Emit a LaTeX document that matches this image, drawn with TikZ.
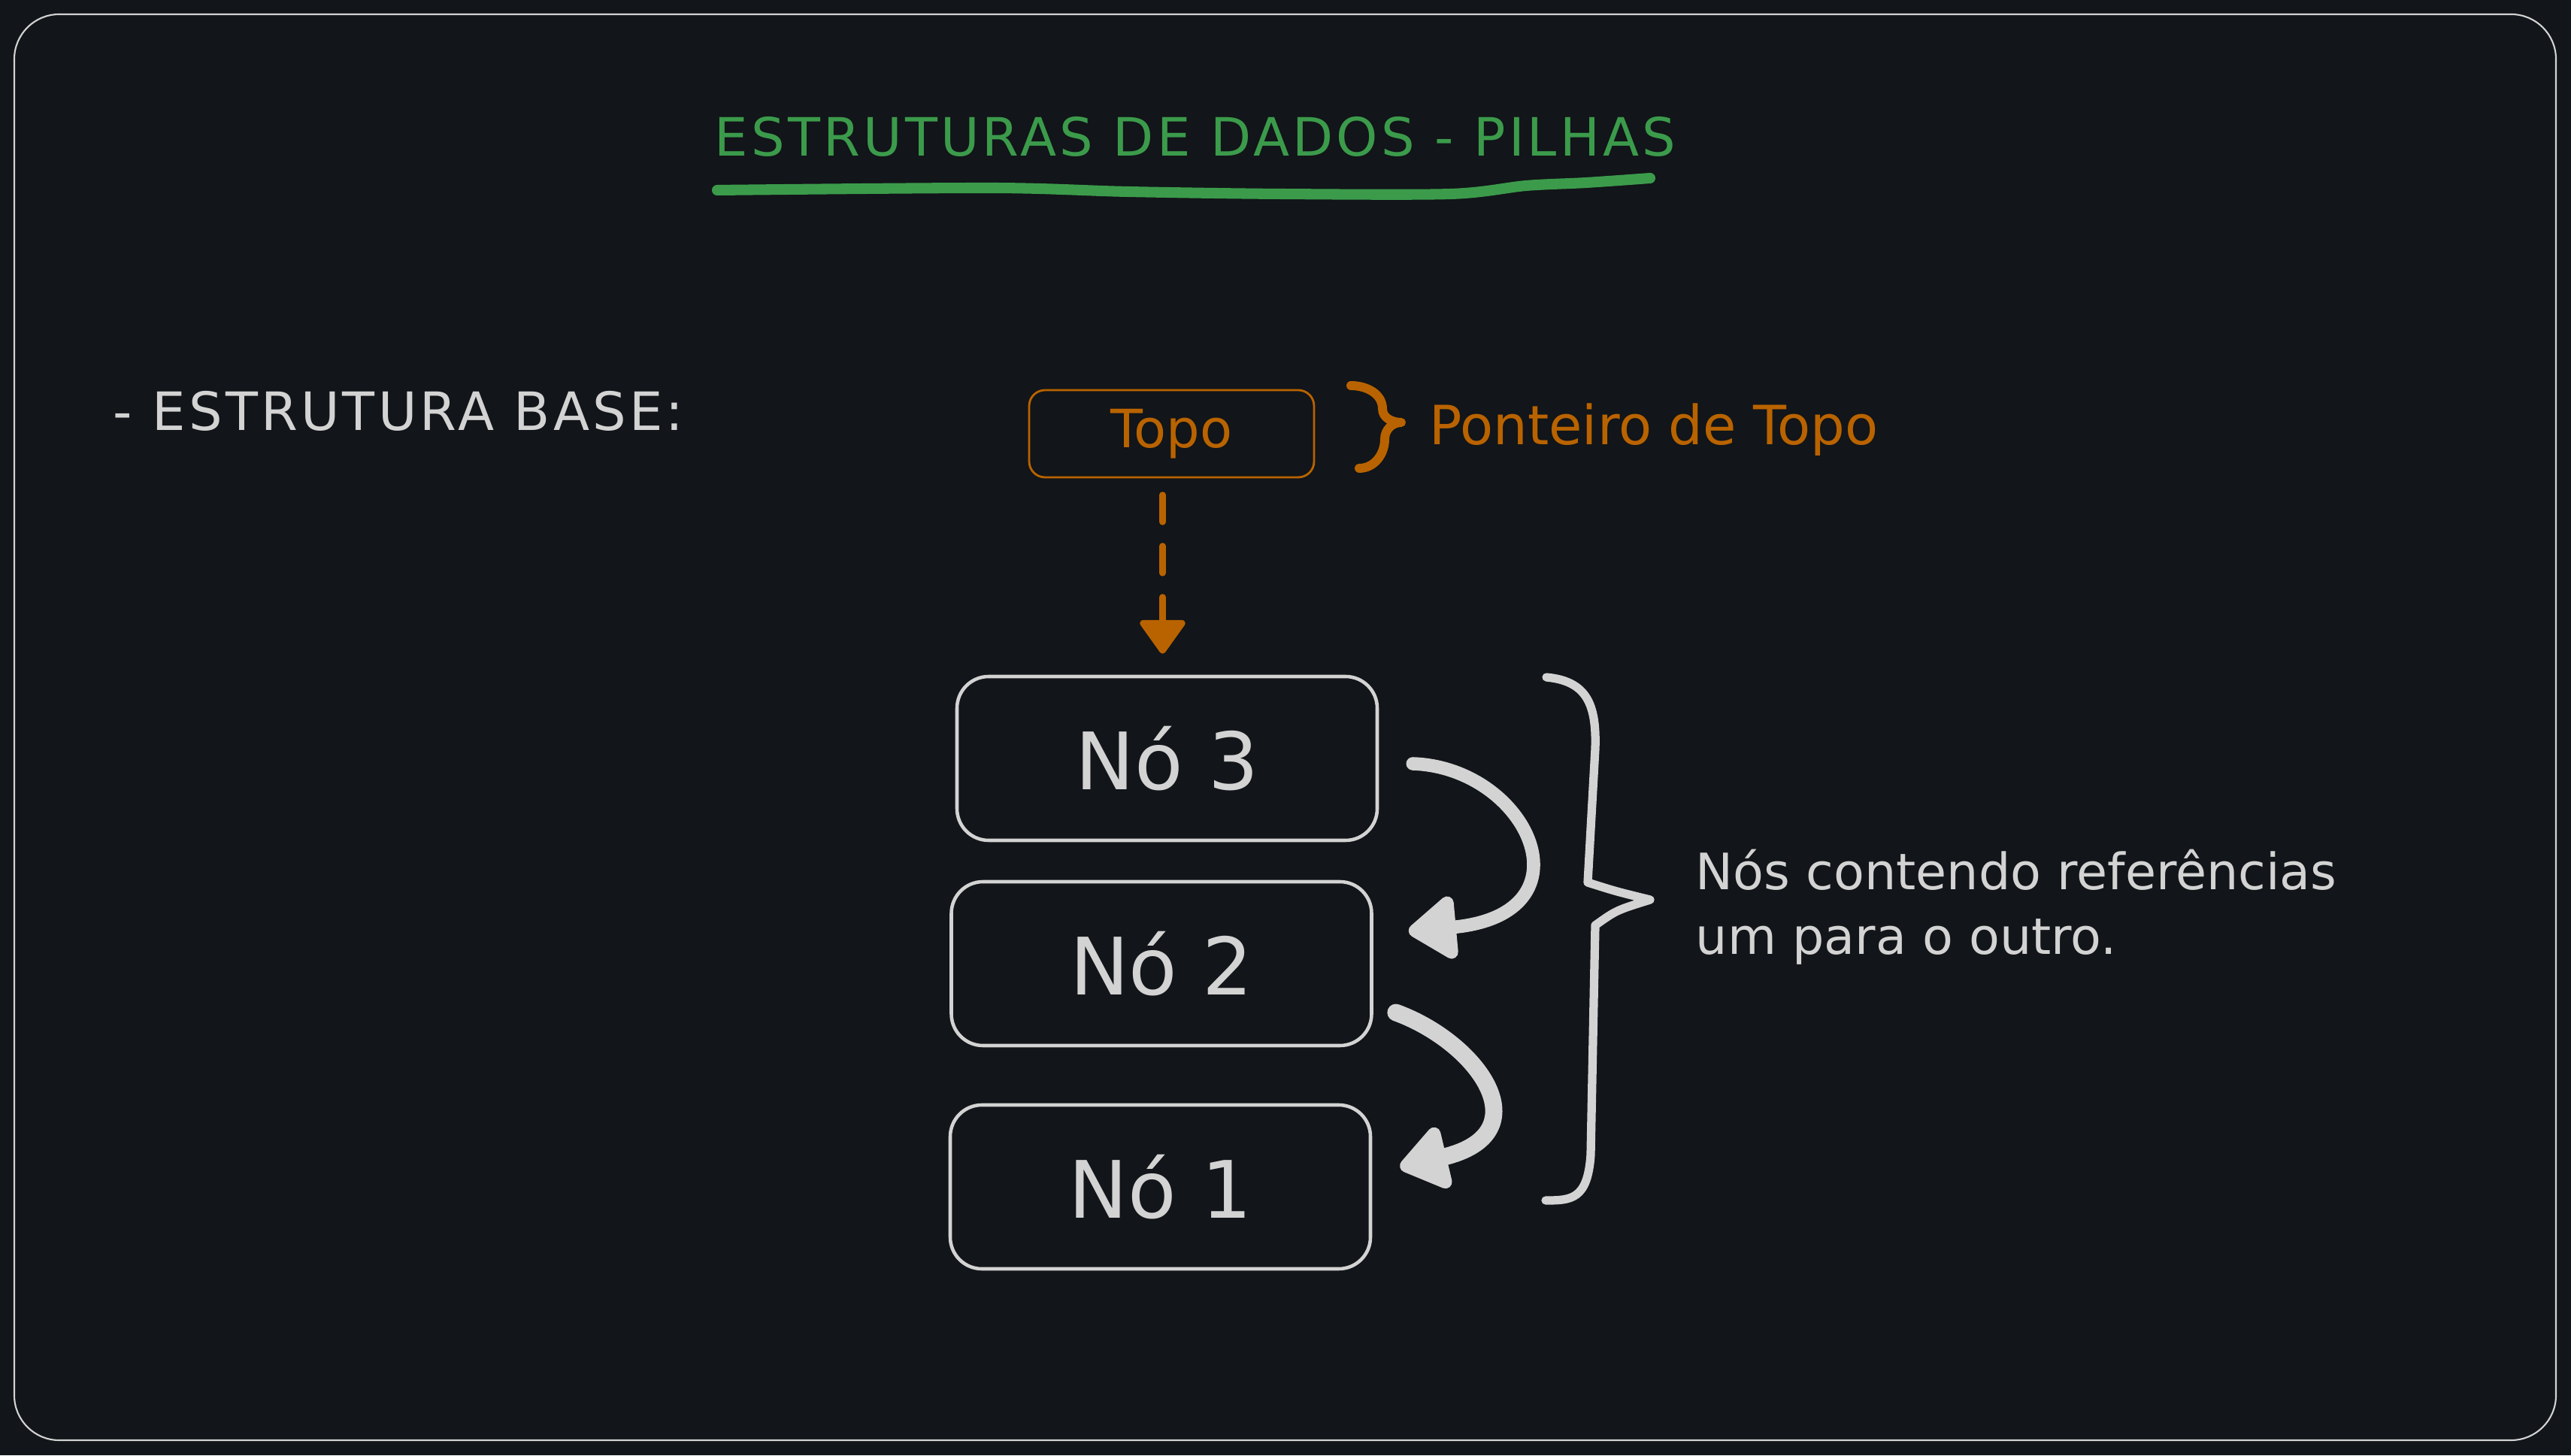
\documentclass[tikz,border=0pt]{standalone}
\usepackage{fontspec}
\setmainfont{DejaVu Sans}
\usepackage{tikz}
\usetikzlibrary{arrows.meta,positioning,calc}
\definecolor{bgdark}{HTML}{121519}
\definecolor{chalk}{HTML}{D3D3D3}
\definecolor{titlegreen}{HTML}{3B9B4B}
\definecolor{ptrorange}{HTML}{B96300}
\tikzset{
  nodebox/.style={draw=chalk,line width=1.3pt,rounded corners=12pt,minimum width=5.59cm,minimum height=2.18cm,text=chalk,font=\fontsize{30}{36}\selectfont},
  ptrbox/.style={draw=ptrorange,line width=0.8pt,rounded corners=6pt,minimum width=3.79cm,minimum height=1.16cm,text=ptrorange,font=\fontsize{20}{24}\selectfont},
  ref/.style={-{Triangle[round,length=7mm,width=9.5mm]},line width=5pt,color=chalk,line cap=round},
}

\begin{document}
\begin{tikzpicture}[
  lab/.style={text=chalk,font=\fontsize{19}{24.5}\selectfont,inner sep=0pt},
  ptr/.style={-{Triangle[round,length=4.8mm,width=6.6mm]},line width=2.4pt,color=ptrorange,line cap=round,dash pattern=on 3.6mm off 3.2mm},
  brc/.style={line width=3.2pt,line cap=round,line join=round}]
  \fill[bgdark] (0,0) rectangle (34.2,19.36);
  \draw[chalk,line width=0.6pt,rounded corners=17pt] (0.19,0.20) rectangle (34.0,19.17);
  % title
  \node[inner sep=0pt,anchor=base,text=titlegreen,font=\fontsize{20}{24}\selectfont\addfontfeature{LetterSpace=6}] (title) at (15.9,17.28) {ESTRUTURAS DE DADOS - PILHAS};
  \draw[titlegreen,line width=4pt,line cap=round] plot[smooth] coordinates {(9.54,16.83) (13.2,16.86) (15.0,16.81) (17.04,16.78) (19.3,16.78) (20.3,16.89) (21.1,16.93) (21.95,16.99)};
  \node[lab,anchor=base west,font=\fontsize{20}{24}\selectfont\addfontfeature{LetterSpace=6}] (base) at (1.5,13.63) {- ESTRUTURA BASE:};
  % pointer
  \node[ptrbox] (topo) at (15.585,13.59) {Topo};
  \draw[brc,ptrorange,line width=3.4pt] (17.97,14.23) to[out=0,in=90] (18.39,13.92) to[out=-90,in=180] (18.64,13.74) to[out=180,in=90] (18.42,13.52) to[out=-90,in=0] (18.08,13.13);
  \node[lab,anchor=base west,text=ptrorange,font=\fontsize{20.5}{24}\selectfont] (ptrlab) at (19.01,13.44) {Ponteiro de Topo};
  % stack
  \node[nodebox] (no3) at (15.525,9.27) {Nó 3};
  \node[nodebox] (no2) at (15.45,6.54) {Nó 2};
  \node[nodebox] (no1) at (15.435,3.57) {Nó 1};
  \draw[ptr,shorten <=2.2mm,shorten >=2.8mm] ([xshift=-1.2mm]topo.south) -- ([xshift=-1.2mm]topo.south |- no3.north);
  \draw[ref] ([xshift=4.5mm,yshift=-0.7mm]no3.east) .. controls +(1.53,-0.05) and +(2.49,0.23) .. ([xshift=4.7mm,yshift=4.3mm]no2.east);
  \draw[ref,line width=6.5pt] ([xshift=3mm,yshift=-6.5mm]no2.east) .. controls +(1.1,-0.4) and +(1.9,0.45) .. ([xshift=3.7mm,yshift=2.6mm]no1.east);
  % brace
  \draw[brc,chalk] (20.57,10.35) .. controls (21.1,10.3) and (21.24,10.0) .. (21.22,9.4) -- (21.12,7.62) .. controls (21.5,7.5) .. (21.95,7.39) .. controls (21.5,7.25) .. (21.22,7.05) -- (21.16,4.0) .. controls (21.12,3.4) and (20.9,3.39) .. (20.56,3.39);
  \node[lab,anchor=base west,align=left] (refs) at (22.55,6.66) {Nós contendo referências\\um para o outro.};
\end{tikzpicture}
\end{document}
